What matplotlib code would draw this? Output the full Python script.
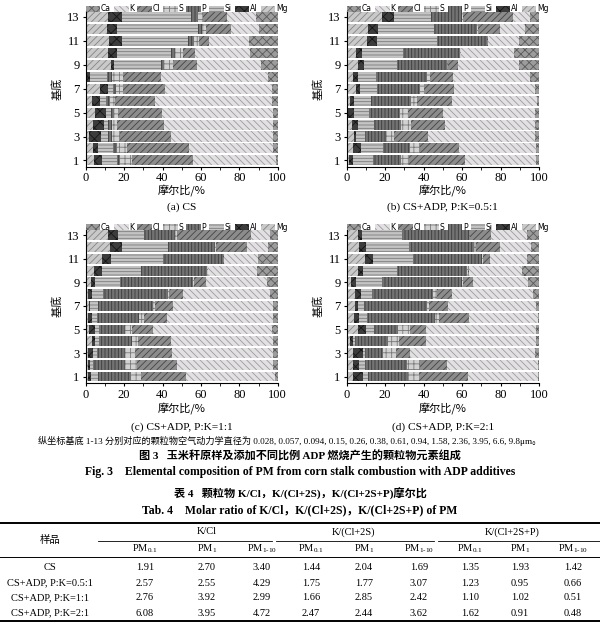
import numpy as np
import matplotlib
matplotlib.use("Agg")
import matplotlib.pyplot as plt
from matplotlib.patches import Patch
from matplotlib.lines import Line2D

plt.rcParams['font.family'] = ['Liberation Serif', 'Noto Sans CJK SC']
plt.rcParams['mathtext.fontset'] = 'custom'
plt.rcParams['mathtext.rm'] = 'Liberation Serif'
plt.rcParams['hatch.linewidth'] = 0.6

# stacking order, left to right (legend shows it reversed)
elements = ['Mg', 'Al', 'Si', 'P', 'S', 'Cl', 'K', 'Ca']
legend_order = ['Ca', 'K', 'Cl', 'S', 'P', 'Si', 'Al', 'Mg']
stages = np.arange(1, 14)

# cumulative molar % at the right edge of Mg, Al, Si, P, S, Cl, K (Ca fills to 100)
# rows = stage 1..13
cs_cum = [
    [4.3, 8.3, 16.1, 17.9, 24.0, 55.7, 99.0],
    [4.0, 6.6, 14.1, 16.5, 21.4, 54.0, 97.7],
    [1.7, 7.8, 11.5, 13.5, 17.9, 44.4, 97.7],
    [4.0, 9.5, 11.8, 13.5, 16.5, 40.8, 97.4],
    [4.9, 10.6, 13.0, 14.8, 17.0, 39.6, 97.4],
    [3.1, 7.5, 10.6, 12.7, 15.3, 36.1, 96.9],
    [7.5, 11.8, 14.1, 15.8, 19.6, 41.3, 97.2],
    [0.9, 2.3, 10.9, 13.7, 19.3, 39.0, 94.8],
    [13.2, 14.8, 39.0, 40.8, 45.7, 57.8, 91.3],
    [11.8, 16.5, 44.3, 46.5, 50.5, 57.0, 85.6],
    [12.2, 18.8, 53.1, 56.4, 59.2, 64.0, 85.2],
    [10.9, 16.5, 58.3, 60.4, 62.5, 75.7, 90.0],
    [11.8, 18.8, 54.7, 58.3, 61.0, 73.4, 88.7],
]
adp05_cum = [
    [1.2, 3.5, 13.5, 28.1, 32.6, 61.5, 98.4],
    [3.1, 7.5, 18.7, 32.9, 38.1, 58.4, 98.4],
    [3.8, 4.7, 9.5, 20.5, 24.6, 42.5, 97.9],
    [2.6, 6.1, 14.2, 28.1, 33.3, 51.1, 97.9],
    [0.9, 4.0, 11.8, 27.7, 32.1, 49.9, 97.9],
    [1.7, 4.0, 12.5, 33.3, 36.4, 54.6, 98.8],
    [4.7, 6.9, 15.9, 38.1, 40.2, 55.8, 97.9],
    [3.5, 6.1, 15.3, 41.6, 43.3, 55.5, 95.3],
    [5.7, 9.0, 26.3, 52.3, 52.9, 58.1, 89.6],
    [4.7, 7.8, 29.5, 58.9, 59.3, 59.4, 87.0],
    [10.4, 15.6, 46.8, 72.8, 73.1, 73.7, 89.8],
    [11.3, 16.1, 45.4, 67.6, 68.5, 79.7, 92.7],
    [18.2, 24.8, 43.8, 60.0, 60.6, 86.5, 95.3],
]
adp1_cum = [
    [1.0, 2.8, 6.6, 23.4, 28.8, 52.3, 98.6],
    [1.4, 2.3, 3.6, 20.5, 26.6, 47.4, 97.7],
    [1.4, 4.0, 5.7, 20.5, 25.7, 44.8, 97.7],
    [3.1, 4.9, 7.1, 24.0, 27.4, 44.4, 97.4],
    [1.7, 4.9, 7.1, 20.5, 24.0, 35.2, 96.9],
    [1.4, 3.1, 6.1, 28.0, 30.4, 42.5, 97.4],
    [1.9, 2.3, 6.6, 35.2, 36.1, 45.3, 97.4],
    [1.4, 3.1, 9.2, 43.0, 43.9, 50.9, 96.0],
    [2.8, 4.9, 17.9, 56.1, 56.6, 62.7, 94.3],
    [4.5, 8.7, 28.8, 63.4, 63.7, 63.9, 89.1],
    [8.3, 13.0, 40.1, 71.4, 71.7, 72.0, 89.9],
    [12.7, 18.8, 43.0, 67.4, 67.7, 84.2, 94.8],
    [11.8, 16.7, 30.6, 46.5, 47.4, 85.9, 96.0],
]
adp2_cum = [
    [3.5, 8.3, 10.9, 32.1, 37.8, 62.9, 99.3],
    [3.1, 6.6, 9.5, 31.2, 38.1, 52.3, 99.3],
    [3.5, 8.3, 9.5, 18.7, 25.6, 32.9, 97.9],
    [1.7, 3.5, 4.3, 21.7, 27.4, 41.2, 98.3],
    [6.1, 10.1, 14.2, 26.9, 32.9, 41.2, 98.3],
    [3.8, 6.6, 10.7, 45.9, 48.2, 63.8, 99.3],
    [4.3, 6.1, 9.2, 41.6, 43.0, 52.9, 98.3],
    [4.3, 7.3, 13.0, 44.7, 46.8, 54.6, 96.7],
    [2.1, 4.9, 18.2, 59.8, 60.7, 65.9, 94.5],
    [5.7, 8.7, 26.3, 62.7, 63.2, 63.8, 91.0],
    [9.5, 13.9, 34.7, 70.2, 70.7, 74.5, 93.6],
    [6.4, 10.1, 32.6, 66.4, 67.2, 79.7, 95.7],
    [5.7, 8.1, 28.6, 63.8, 64.1, 74.9, 93.9],
]


def to_shares(cum):
    c = np.array(cum)
    c = np.hstack([np.zeros((len(c), 1)), c, np.full((len(c), 1), 100.0)])
    return np.diff(c, axis=1)


panels = [
    ('(a) CS', to_shares(cs_cum)),
    ('(b) CS+ADP, P:K=0.5:1', to_shares(adp05_cum)),
    ('(c) CS+ADP, P:K=1:1', to_shares(adp1_cum)),
    ('(d) CS+ADP, P:K=2:1', to_shares(adp2_cum)),
]

# face, hatch colour, hatch pattern
styles = {
    'Mg': ('#c9c9c9', '#858585', '/////'),
    'Al': ('#3c3c3c', '#151515', 'xxx'),
    'Si': ('#c4c4c4', '#7c7c7c', '-----'),
    'P':  ('#737373', '#3a3a3a', '|||||'),
    'S':  ('#d2d2d2', '#7a7a7a', '+++'),
    'Cl': ('#8c8c8c', '#454545', '/////'),
    'K':  ('#e3e0e3', '#9c9c9c', '\\\\\\\\\\'),
    'Ca': ('#9c9c9c', '#5a5a5a', 'xxxx'),
}

ratio_cols = ['K/Cl', 'K/(Cl+2S)', 'K/(Cl+2S+P)']
pm_cols = ['PM$_{0.1}$', 'PM$_{1}$', 'PM$_{1\u201010}$']
samples = ['CS', 'CS+ADP, P:K=0.5:1', 'CS+ADP, P:K=1:1', 'CS+ADP, P:K=2:1']
ratios = [
    ['1.91', '2.70', '3.40', '1.44', '2.04', '1.69', '1.35', '1.93', '1.42'],
    ['2.57', '2.55', '4.29', '1.75', '1.77', '3.07', '1.23', '0.95', '0.66'],
    ['2.76', '3.92', '2.99', '1.66', '2.85', '2.42', '1.10', '1.02', '0.51'],
    ['6.08', '3.95', '4.72', '2.47', '2.44', '3.62', '1.62', '0.91', '0.48'],
]

W, H = 600, 624
fig = plt.figure(figsize=(W / 100, H / 100), dpi=100)


def fx(px):
    return px / W


def fy(py):
    return 1 - py / H


def draw_panel(ax, shares, tick_pad, label_pad):
    left = np.zeros(len(stages))
    for j, el in enumerate(elements):
        fc, hc, hp = styles[el]
        ax.barh(stages, shares[:, j], left=left, height=0.84, color=fc,
                edgecolor=hc, hatch=hp, linewidth=0.0)
        left += shares[:, j]
    ax.set_xlim(0, 100)
    ax.set_ylim(0.45, 13.5)
    ax.set_xticks(range(0, 101, 20))
    ax.set_xticks(range(10, 100, 20), minor=True)
    ax.set_yticks(range(1, 14, 2))
    ax.tick_params(labelsize=9, length=2.5, width=0.8)
    ax.tick_params(axis='x', pad=tick_pad)
    ax.tick_params(axis='y', pad=2)
    ax.tick_params(which='minor', length=1.8, width=0.6)
    ax.spines['top'].set_visible(False)
    ax.spines['right'].set_visible(False)
    ax.set_xlabel('摩尔比/%', fontsize=8, labelpad=label_pad,
                  family=['Noto Sans CJK SC'])
    ax.set_ylabel('基底', fontsize=8, labelpad=3,
                  family=['Noto Sans CJK SC'])
    handles = [Patch(facecolor=styles[e][0], edgecolor=styles[e][1],
                     hatch=styles[e][2], linewidth=0) for e in legend_order]
    ax.legend(handles, legend_order, ncol=8, loc='lower left',
              bbox_to_anchor=(0.0, 0.985, 1.05, 0.06), mode='expand',
              frameon=False, handlelength=1.9, handleheight=0.9,
              handletextpad=0.1, columnspacing=0.15, borderaxespad=0,
              borderpad=0, prop={'family': 'DejaVu Sans', 'size': 5.5})


boxes = [
    (85.7, 11, 277.7, 167),
    (346.7, 11, 539, 167),
    (85.7, 229.5, 277.7, 383),
    (346.7, 229.5, 539, 383),
]
cap_y = [207, 207, 427, 427]
pads = [(1.0, 1.0), (1.0, 1.0), (2.0, 1.0), (2.0, 1.0)]
for (caption, shares), (x0, y0, x1, y1), cy, (tp, lp) in zip(panels, boxes, cap_y, pads):
    ax = fig.add_axes([fx(x0), fy(y1), fx(x1 - x0), (y1 - y0) / H])
    draw_panel(ax, shares, tp, lp)
    fig.text(fx((x0 + x1) / 2), fy(cy), caption, ha='center', va='center',
             fontsize=8.2)

cjk_serif = ['Liberation Serif', 'Noto Sans CJK SC']
fig.text(fx(290), fy(440.5),
         '纵坐标基底 1-13 分别对应的颗粒物空气动力学直径为 0.028, 0.057, 0.094, '
         '0.15, 0.26, 0.38, 0.61, 0.94, 1.58, 2.36, 3.95, 6.6, 9.8μm。',
         ha='center', va='center', fontsize=6.6, family=cjk_serif)
fig.text(fx(300), fy(456), '图 3   玉米秆原样及添加不同比例 ADP 燃烧产生的颗粒物元素组成',
         ha='center', va='center', fontsize=8, fontweight='bold', family=cjk_serif)
fig.text(fx(300), fy(472),
         'Fig. 3    Elemental composition of PM from corn stalk combustion with ADP additives',
         ha='center', va='center', fontsize=8.5, fontweight='bold')
fig.text(fx(300), fy(494), '表 4   颗粒物 K/Cl，K/(Cl+2S)，K/(Cl+2S+P)摩尔比',
         ha='center', va='center', fontsize=8, fontweight='bold', family=cjk_serif)
fig.text(fx(300), fy(510), 'Tab. 4    Molar ratio of K/Cl，K/(Cl+2S)，K/(Cl+2S+P) of PM',
         ha='center', va='center', fontsize=8.5, fontweight='bold', family=cjk_serif)

# table
col_x = [145, 207, 262, 311, 364, 419, 470, 520, 573]
grp_x = [207, 354, 512]
grp_span = [(98, 272), (276, 434), (438, 600)]
row_y = [567, 583, 598, 613]


def hline(x0, x1, y, lw):
    fig.add_artist(Line2D([fx(x0), fx(x1)], [fy(y), fy(y)], color='black',
                          linewidth=lw, transform=fig.transFigure))


hline(0, 600, 523, 1.4)
hline(0, 600, 557, 0.7)
hline(0, 600, 621, 1.4)
for a, b in grp_span:
    hline(a, b, 541, 0.6)
fig.text(fx(50), fy(540), '样品', ha='center', va='center', fontsize=7.5,
         family=cjk_serif)
for x, t in zip(grp_x, ratio_cols):
    fig.text(fx(x), fy(532), t, ha='center', va='center', fontsize=7.5)
for i, x in enumerate(col_x):
    fig.text(fx(x), fy(549), pm_cols[i % 3], ha='center', va='center',
             fontsize=7.5)
for r, (s, vals) in enumerate(zip(samples, ratios)):
    fig.text(fx(50), fy(row_y[r]), s, ha='center', va='center', fontsize=7.5)
    for x, v in zip(col_x, vals):
        fig.text(fx(x), fy(row_y[r]), v, ha='center', va='center',
                 fontsize=7.5)

fig.savefig('out.png', dpi=100)
